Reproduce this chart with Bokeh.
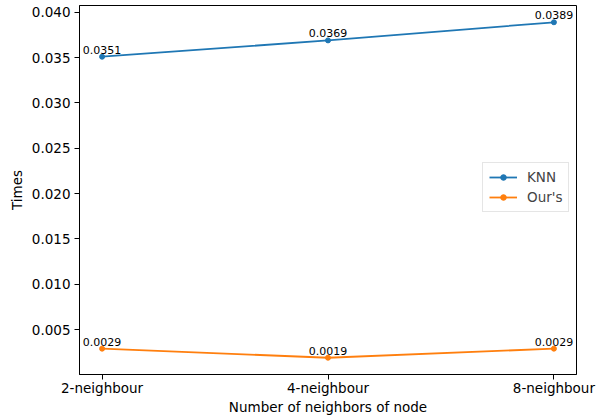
from bokeh.plotting import figure
from bokeh.models import (ColumnDataSource, FixedTicker, NumeralTickFormatter,
                          Legend, LegendItem, Range1d)
from bokeh.core.properties import value
from bokeh.embed import file_html
from bokeh.resources import INLINE

# Data
categories = ["2-neighbour", "4-neighbour", "8-neighbour"]
knn_times = [0.0351, 0.0369, 0.0389]
ours_times = [0.0029, 0.0019, 0.0029]
y_ticks = [0.005, 0.010, 0.015, 0.020, 0.025, 0.030, 0.035, 0.040]

FONT = "DejaVu Sans"
BLUE = "#1f77b4"
ORANGE = "#ff7f0e"

xs = list(range(len(categories)))
ymin = min(ours_times + knn_times)
ymax = max(ours_times + knn_times)
pad = (ymax - ymin) * 0.05

FW, FH = 497, 369
p = figure(frame_width=FW, frame_height=FH, output_backend="svg",
           toolbar_location=None,
           x_range=Range1d(-0.1, len(categories) - 0.9),
           y_range=Range1d(ymin - pad, ymax + pad))
p.min_border_left = 79
p.min_border_right = 21
p.min_border_top = 5
p.min_border_bottom = 45
p.background_fill_color = "white"
p.border_fill_color = "white"
p.outline_line_color = "black"
p.outline_line_width = 1
p.xgrid.visible = False
p.ygrid.visible = False

knn_src = ColumnDataSource(dict(x=xs, y=knn_times, label=[f"{v:.4f}" for v in knn_times]))
ours_src = ColumnDataSource(dict(x=xs, y=ours_times, label=[f"{v:.4f}" for v in ours_times]))

r1 = p.line("x", "y", source=knn_src, line_color=BLUE, line_width=1.8)
s1 = p.scatter("x", "y", source=knn_src, size=5, color=BLUE)
r2 = p.line("x", "y", source=ours_src, line_color=ORANGE, line_width=1.8)
s2 = p.scatter("x", "y", source=ours_src, size=5, color=ORANGE)

# value annotations above each point
for src in (knn_src, ours_src):
    p.text("x", "y", text="label", source=src, text_align="center",
           text_baseline="bottom", y_offset=-3, text_font_size="11px",
           text_color="black", text_font=value(FONT))

# axes
for ax in (p.xaxis[0], p.yaxis[0]):
    ax.major_tick_out = 5
    ax.major_tick_in = 0
    ax.minor_tick_out = 0
    ax.minor_tick_in = 0
    ax.axis_line_color = "black"
    ax.major_tick_line_color = "black"
    ax.major_label_text_font = FONT
    ax.major_label_text_font_size = "13.5px"
    ax.major_label_text_color = "black"
    ax.axis_label_text_font = FONT
    ax.axis_label_text_font_size = "13.5px"
    ax.axis_label_text_font_style = "normal"
    ax.axis_label_text_color = "black"

p.xaxis.ticker = FixedTicker(ticks=xs)
p.xaxis.major_label_overrides = {i: c for i, c in enumerate(categories)}
p.xaxis.axis_label = "Number of neighbors of node"
p.xaxis.major_label_standoff = 0
p.xaxis.axis_label_standoff = 0

p.yaxis.ticker = FixedTicker(ticks=y_ticks)
p.yaxis.formatter = NumeralTickFormatter(format="0.000")
p.yaxis.axis_label = "Times"
p.yaxis.major_label_standoff = 4
p.yaxis.axis_label_standoff = 4

legend = Legend(items=[LegendItem(label="KNN", renderers=[r1, s1]),
                       LegendItem(label="Our's", renderers=[r2, s2])],
                location=(403, 162))
legend.label_text_font = FONT
legend.label_text_font_size = "13.5px"
legend.border_line_color = "#cccccc"
legend.border_line_width = 1
legend.background_fill_alpha = 0.8
legend.glyph_width = 28
legend.glyph_height = 14
legend.label_standoff = 10
legend.padding = 6
legend.spacing = 4
legend.margin = 0
p.add_layout(legend)

open("out.html", "w").write(file_html(p, INLINE))
